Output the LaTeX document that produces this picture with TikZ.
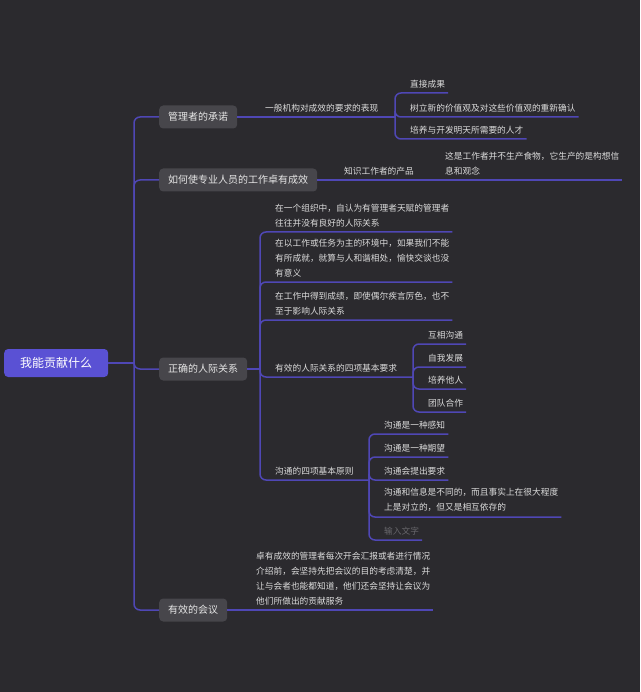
\documentclass[tikz,border=0pt]{standalone}
\usepackage{fontspec}
\setmainfont{Noto Sans CJK SC}
\usepackage{tikz}
\usepackage{xcolor}
\definecolor{bgc}{HTML}{2B2A2E}
\definecolor{linkc}{HTML}{4F47B5}
\definecolor{boxc}{HTML}{47464B}
\definecolor{rootc}{HTML}{5A51D4}
\definecolor{txtc}{HTML}{E6E6E6}
\definecolor{leafc}{HTML}{DCDCDC}
\definecolor{hintc}{HTML}{68676C}

\begin{document}
\begin{tikzpicture}[x=1pt, y=-1pt,
  link/.style={draw=linkc, line width=1.5pt},
  topic/.style={fill=boxc, rounded corners=4pt, text=txtc, font=\fontsize{10}{12}\selectfont, minimum height=23pt, inner xsep=9pt, anchor=west},
  leaf/.style={text=leafc, font=\fontsize{8.7}{15}\selectfont, align=left, anchor=south west, inner xsep=3pt, inner ysep=5pt}]
  \fill[bgc] (0,0) rectangle (640,692);
  \useasboundingbox (0,0) rectangle (640,692);
  \node[fill=rootc, rounded corners=4pt, text=white, font=\fontsize{12}{14}\selectfont, minimum height=28pt, inner xsep=16pt, anchor=west] (R) at (4,363) {我能贡献什么};
  \node[topic] (B1) at (159,117) {管理者的承诺};
  \node[topic] (B2) at (159,180) {如何使专业人员的工作卓有成效};
  \node[topic] (B3) at (159,369) {正确的人际关系};
  \node[topic] (B4) at (159,610) {有效的会议};
  \coordinate (T) at (134,363);
  \draw[link] (R.east) -- (T);
  \foreach \b in {B1,B2,B3,B4}
    \draw[link, rounded corners=6pt] (T) |- (\b.west);

  \node[leaf] (K1) at (262,117) {一般机构对成效的要求的表现};
  \coordinate (S1) at (395,117);
  \draw[link] (B1.east) -- (S1);
  \node[leaf] (L11) at (407,93) {直接成果};
  \node[leaf] (L12) at (407,117) {树立新的价值观及对这些价值观的重新确认};
  \node[leaf] (L13) at (407,139) {培养与开发明天所需要的人才};
  \foreach \l in {L11,L12,L13}
    \draw[link, rounded corners=6pt] (S1) |- (\l.south east);

  \node[leaf] (K2) at (341,180) {知识工作者的产品};
  \node[leaf] (L21) at (442,180) {这是工作者并不生产食物，它生产的是构想信\\息和观念};
  \draw[link] (B2.east) -- (L21.south east);

  \coordinate (S3) at (260,369);
  \draw[link] (B3.east) -- (S3);
  \node[leaf] (L31) at (272,232) {在一个组织中，自认为有管理者天赋的管理者\\往往并没有良好的人际关系};
  \node[leaf] (L32) at (272,282) {在以工作或任务为主的环境中，如果我们不能\\有所成就，就算与人和谐相处，愉快交谈也没\\有意义};
  \node[leaf] (L33) at (272,320) {在工作中得到成绩，即使偶尔疾言厉色，也不\\至于影响人际关系};
  \node[leaf] (L34) at (272,377) {有效的人际关系的四项基本要求};
  \node[leaf] (L35) at (272,480) {沟通的四项基本原则};
  \coordinate (S34) at (413,377);
  \coordinate (S35) at (369,480);
  \foreach \l in {L31,L32,L33}
    \draw[link, rounded corners=6pt] (S3) |- (\l.south east);
  \draw[link, rounded corners=6pt] (S3) |- (S34);
  \draw[link, rounded corners=6pt] (S3) |- (S35);

  \node[leaf] (L341) at (425,344) {互相沟通};
  \node[leaf] (L342) at (425,367) {自我发展};
  \node[leaf] (L343) at (425,389) {培养他人};
  \node[leaf] (L344) at (425,412) {团队合作};
  \foreach \l in {L341,L342,L343,L344}
    \draw[link, rounded corners=6pt] (S34) |- (\l.south east);

  \node[leaf] (L351) at (381,434) {沟通是一种感知};
  \node[leaf] (L352) at (381,457) {沟通是一种期望};
  \node[leaf] (L353) at (381,480) {沟通会提出要求};
  \node[leaf] (L354) at (381,517) {沟通和信息是不同的，而且事实上在很大程度\\上是对立的，但又是相互依存的};
  \node[leaf, text=hintc] (L355) at (381,540) {输入文字};
  \foreach \l in {L351,L352,L353,L354,L355}
    \draw[link, rounded corners=6pt] (S35) |- (\l.south east);

  \node[leaf] (L41) at (253,610) {卓有成效的管理者每次开会汇报或者进行情况\\介绍前，会坚持先把会议的目的考虑清楚，并\\让与会者也能都知道，他们还会坚持让会议为\\他们所做出的贡献服务};
  \draw[link] (B4.east) -- (L41.south east);
\end{tikzpicture}
\end{document}
